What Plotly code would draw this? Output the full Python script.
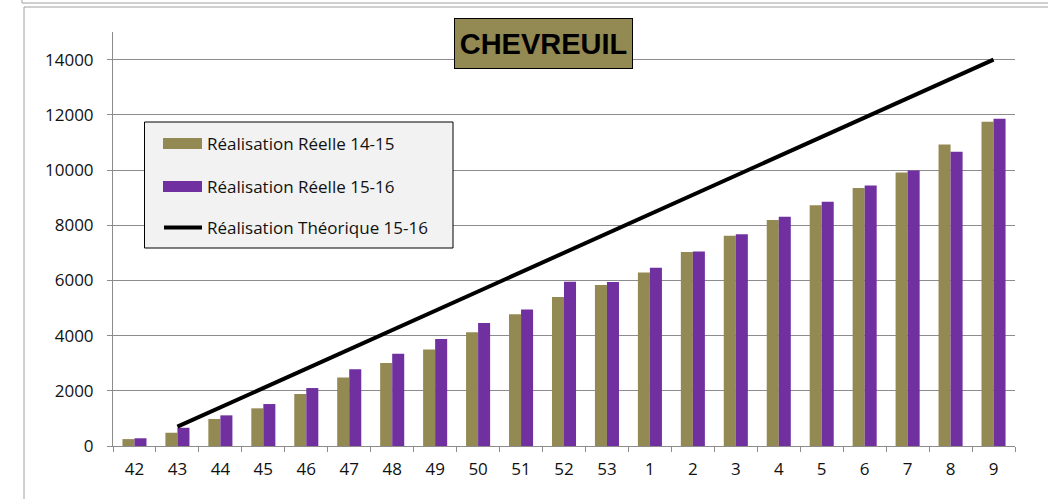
import plotly.graph_objects as go

weeks = ["42", "43", "44", "45", "46", "47", "48", "49", "50", "51", "52", "53",
         "1", "2", "3", "4", "5", "6", "7", "8", "9"]
reel_14_15 = [250, 480, 980, 1365, 1885, 2480, 3010, 3500, 4120, 4775, 5395, 5830,
              6290, 7025, 7620, 8190, 8720, 9345, 9910, 10920, 11750]
reel_15_16 = [280, 660, 1110, 1520, 2100, 2780, 3340, 3880, 4460, 4945, 5950, 5940,
              6460, 7050, 7670, 8310, 8850, 9440, 9985, 10665, 11860]
theorique_15_16 = [None, 700, 1400, 2100, 2800, 3500, 4200, 4900, 5600, 6300, 7000, 7700,
                   8400, 9100, 9800, 10500, 11200, 11900, 12600, 13300, 14000]

OLIVE = "#938953"
PURPLE = "#7030A0"
GRID = "#8c8c8c"
FONT = "Open Sans"

W, H = 1048, 499
ML, MR, MT, MB = 113, 33, 32, 53
PW = W - ML - MR
PH = H - MT - MB


def px(x):
    return (x - ML) / PW


def py(y):
    return (H - MB - y) / PH


fig = go.Figure()
fig.add_trace(go.Bar(x=weeks, y=reel_14_15, name="Réalisation Réelle 14-15",
                     marker=dict(color=OLIVE, line=dict(width=0))))
fig.add_trace(go.Bar(x=weeks, y=reel_15_16, name="Réalisation Réelle 15-16",
                     marker=dict(color=PURPLE, line=dict(width=0))))
fig.add_trace(go.Scatter(x=weeks, y=theorique_15_16, name="Réalisation Théorique 15-16",
                         mode="lines", line=dict(color="black", width=4),
                         connectgaps=False))

shapes = []
# outer frames
shapes.append(dict(type="line", xref="paper", yref="paper", x0=px(22), x1=px(1060),
                   y0=py(3), y1=py(3), line=dict(color="#a0a0a0", width=1)))
shapes.append(dict(type="line", xref="paper", yref="paper", x0=px(22), x1=px(22),
                   y0=py(-5), y1=py(3), line=dict(color="#a0a0a0", width=1)))
shapes.append(dict(type="rect", xref="paper", yref="paper", x0=px(24), x1=px(1060),
                   y0=py(7), y1=py(520), line=dict(color="#a0a0a0", width=1)))
# legend box
shapes.append(dict(type="rect", xref="paper", yref="paper", x0=px(144.5), x1=px(453),
                   y0=py(122), y1=py(248), fillcolor="#f2f2f2",
                   line=dict(color="black", width=1), layer="above"))
shapes.append(dict(type="rect", xref="paper", yref="paper", x0=px(163), x1=px(202),
                   y0=py(138), y1=py(149), fillcolor=OLIVE, line=dict(width=0), layer="above"))
shapes.append(dict(type="rect", xref="paper", yref="paper", x0=px(163), x1=px(202),
                   y0=py(181), y1=py(192), fillcolor=PURPLE, line=dict(width=0), layer="above"))
shapes.append(dict(type="line", xref="paper", yref="paper", x0=px(164), x1=px(202),
                   y0=py(227.5), y1=py(227.5), line=dict(color="black", width=4), layer="above"))

annotations = []
for label, yc in [("Réalisation Réelle 14-15", 143.5),
                  ("Réalisation Réelle 15-16", 186.5),
                  ("Réalisation Théorique 15-16", 227.5)]:
    annotations.append(dict(text=label, xref="paper", yref="paper", x=px(205), y=py(yc),
                            xanchor="left", yanchor="middle", showarrow=False,
                            font=dict(family=FONT, size=17, color="#111111")))
annotations.append(dict(text="<b>CHEVREUIL</b>", xref="paper", yref="paper",
                        x=px(543.5), y=py(43.5), xanchor="center", yanchor="middle",
                        showarrow=False, bgcolor=OLIVE, bordercolor="black", borderwidth=1,
                        borderpad=0, width=177, height=49,
                        font=dict(family="Liberation Sans Narrow, Liberation Sans, Arial Narrow",
                                  size=29, color="black")))

fig.update_layout(
    width=W, height=H,
    margin=dict(l=ML, r=MR, t=MT, b=MB),
    paper_bgcolor="white", plot_bgcolor="white",
    barmode="group", bargap=0.44, bargroupgap=0,
    showlegend=False,
    shapes=shapes, annotations=annotations,
    font=dict(family=FONT, size=17, color="#111111"),
)
fig.update_xaxes(type="category", showgrid=False, showline=True, linecolor=GRID,
                 linewidth=1, ticks="outside", ticklen=5, tickcolor=GRID,
                 tickson="boundaries", ticklabelstandoff=8,
                 tickfont=dict(family=FONT, size=17, color="#111111"))
fig.update_yaxes(range=[0, 15000], dtick=2000, tick0=0, showgrid=True, gridcolor=GRID,
                 gridwidth=1, showline=True, linecolor=GRID, linewidth=1,
                 ticks="outside", ticklen=5, tickcolor=GRID, zeroline=False,
                 ticklabelstandoff=10, tickformat="d",
                 tickfont=dict(family=FONT, size=17, color="#111111"))

fig.write_html("out.html", config={"displayModeBar": False},
               post_script="document.body.style.margin='0';")
